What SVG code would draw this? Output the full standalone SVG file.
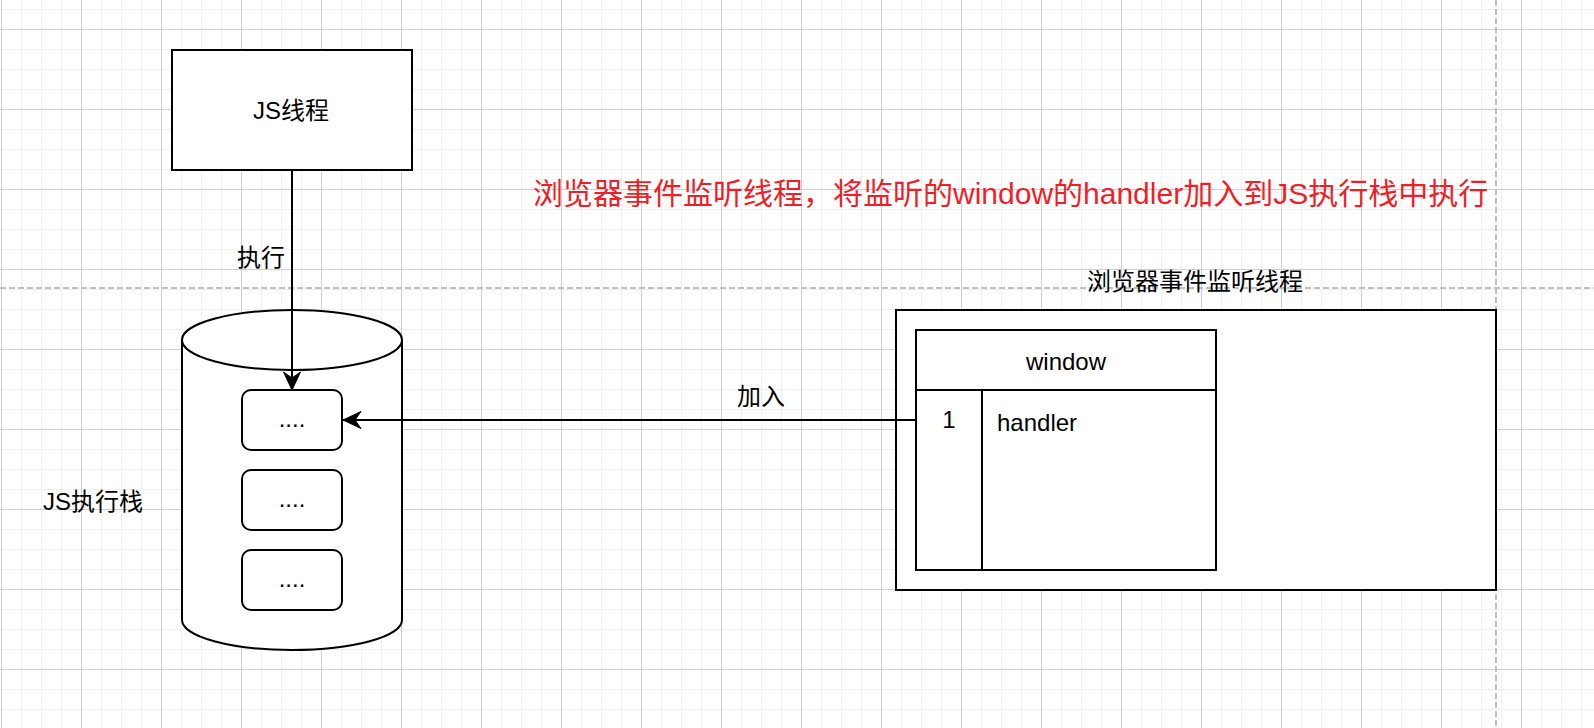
<svg xmlns="http://www.w3.org/2000/svg" width="1594" height="728" viewBox="0 0 1594 728">
<defs>
<style>
text{font-family:"Liberation Sans","Noto Sans CJK SC",sans-serif;font-size:24px;fill:#000}
.c{text-anchor:middle;dominant-baseline:central}
.l{dominant-baseline:central}
.shape{fill:#fff;stroke:#000;stroke-width:2}
.edge{fill:none;stroke:#000;stroke-width:2}
.guide{fill:none;stroke:#c0c0c0;stroke-width:2;stroke-dasharray:6 3}
.red{fill:#f01e28;font-size:30px}
</style>
<pattern id="minor" x="1" y="9" width="20" height="20" patternUnits="userSpaceOnUse">
<rect x="0" y="0" width="1" height="20" fill="#f0f0f0"/>
<rect x="0" y="0" width="20" height="1" fill="#f0f0f0"/>
</pattern>
<pattern id="major" x="1" y="29" width="80" height="80" patternUnits="userSpaceOnUse">
<rect x="0" y="0" width="1" height="80" fill="#d0d0d0"/>
<rect x="0" y="0" width="80" height="1" fill="#d0d0d0"/>
</pattern>
<marker id="arrow" viewBox="-20 -10 22 20" refX="0" refY="0" markerWidth="22" markerHeight="20" markerUnits="userSpaceOnUse" orient="auto">
<path d="M0,0 L-18,-8.5 L-12,0 L-18,8.5 Z" fill="#000" stroke="#000" stroke-width="1"/>
</marker>
</defs>
<rect width="1594" height="728" fill="#fff"/>
<rect width="1594" height="728" fill="url(#minor)"/>
<rect width="1594" height="728" fill="url(#major)"/>
<g id="guides">
<line class="guide" x1="0" y1="288" x2="1594" y2="288"/>
<line class="guide" x1="1496" y1="0" x2="1496" y2="728"/>
</g>
<g id="js-thread">
<rect class="shape" x="172" y="50" width="240" height="120"/>
<text class="c" x="291" y="110">JS线程</text>
</g>
<g id="js-stack">
<path class="shape" d="M182,340 A110,30 0 0,1 402,340 V620 A110,30 0 0,1 182,620 Z"/>
<path class="edge" d="M182,340 A110,30 0 0,0 402,340"/>
</g>
<g id="stack-item-1">
<rect class="shape" x="242" y="390" width="100" height="60" rx="9"/>
<text class="c" x="292" y="418">....</text>
</g>
<g id="stack-item-2">
<rect class="shape" x="242" y="470" width="100" height="60" rx="9"/>
<text class="c" x="292" y="498">....</text>
</g>
<g id="stack-item-3">
<rect class="shape" x="242" y="550" width="100" height="60" rx="9"/>
<text class="c" x="292" y="578">....</text>
</g>
<g id="stack-label">
<text class="l" x="43" y="501">JS执行栈</text>
</g>
<g id="listener-thread">
<text class="l" x="1087" y="281">浏览器事件监听线程</text>
<rect class="shape" x="896" y="310" width="600" height="280"/>
</g>
<g id="window-table">
<rect class="shape" x="916" y="330" width="300" height="240"/>
<line class="edge" x1="916" y1="390" x2="1216" y2="390"/>
<line class="edge" x1="982" y1="390" x2="982" y2="570"/>
<text class="c" x="1066" y="361">window</text>
<text x="949" y="428" text-anchor="middle">1</text>
<text x="997" y="431">handler</text>
</g>
<g id="note">
<text class="red l" x="533" y="193">浏览器事件监听线程，将监听的window的handler加入到JS执行栈中执行</text>
</g>
<g id="connectors">
<line class="edge" x1="292" y1="170" x2="292" y2="390" marker-end="url(#arrow)"/>
<text class="c" x="261" y="257">执行</text>
<line class="edge" x1="916" y1="420" x2="343" y2="420" marker-end="url(#arrow)"/>
<text class="c" x="761" y="396">加入</text>
</g>
</svg>
